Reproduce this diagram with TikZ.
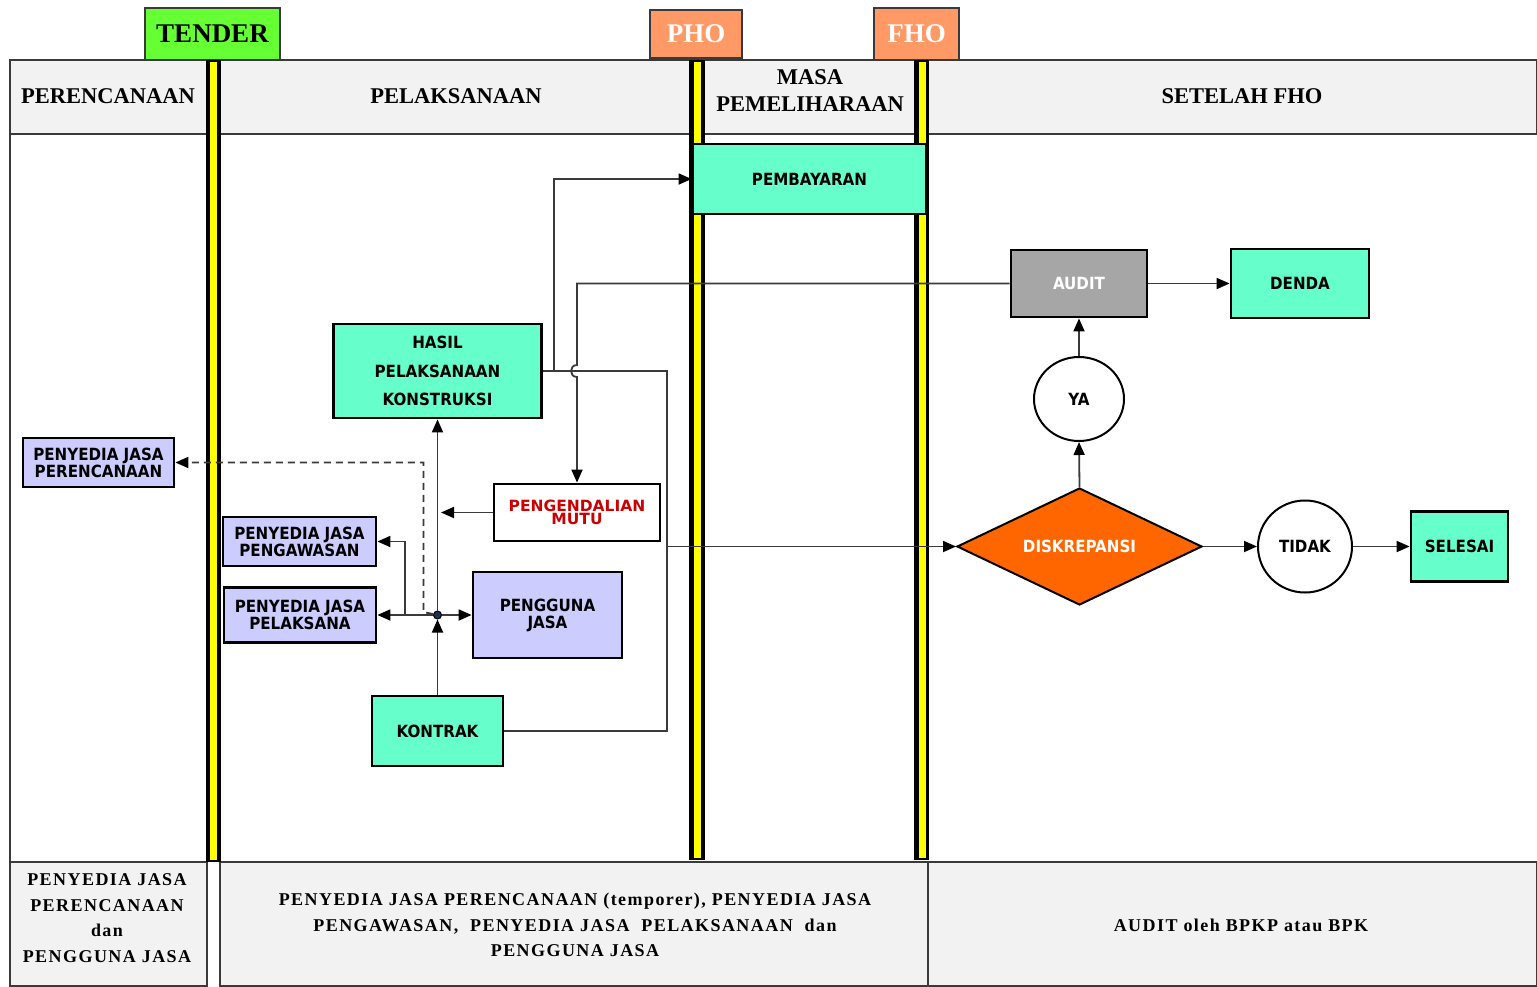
\documentclass[tikz,border=0pt]{standalone}
\usepackage{fontspec}
\setmainfont{Liberation Serif}
\newfontfamily\btmfont{Liberation Serif}[LetterSpace=8]
\newfontfamily\boxfont{DejaVu Sans Condensed}
\newfontfamily\boxwide{DejaVu Sans}
\usetikzlibrary{shapes.geometric,arrows.meta}
\definecolor{aqua}{HTML}{66FFCC}
\definecolor{lav}{HTML}{CCCCFF}
\definecolor{gbox}{HTML}{A6A6A6}
\definecolor{orng}{HTML}{FF6600}
\definecolor{hdrgray}{HTML}{F2F2F2}
\definecolor{tgreen}{HTML}{66FF33}
\definecolor{tabor}{HTML}{FF9966}
\definecolor{yel}{HTML}{FFFF00}
\definecolor{redtxt}{HTML}{CC0000}
\definecolor{lin}{HTML}{3A3A3A}
\definecolor{navy}{HTML}{1F3050}
\begin{document}
\begin{tikzpicture}[x=1pt,y=-1pt,
  bx/.style={draw=black,line width=2.8pt,inner sep=0pt,align=center,
    font=\boxfont\bfseries\fontsize{16.8}{17}\selectfont},
  aquabox/.style={bx,fill=aqua},
  lavbox/.style={bx,fill=lav},
  graybox/.style={bx,fill=gbox,text=white},
  circ/.style={draw=black,line width=2pt,ellipse,fill=white,inner sep=0pt,
    font=\boxfont\bfseries\fontsize{16.8}{17}\selectfont},
  hdr/.style={font=\bfseries\fontsize{22.5}{27}\selectfont,align=center,inner sep=0pt},
  btm/.style={font=\btmfont\bfseries\fontsize{18}{25.5}\selectfont,align=center,inner sep=0pt},
  tab/.style={draw=lin,line width=1.5pt,inner sep=0pt,font=\bfseries\fontsize{27}{27}\selectfont},
  ln/.style={draw=lin,line width=1.8pt},
  arr/.style={ln,-{Triangle[length=13pt,width=11pt,black]}},
  cell/.style={draw=lin,line width=1.5pt}
]
\useasboundingbox (0,0) rectangle (1537,986);
% frame and bands
\fill[white] (10,60) rectangle (1537,986);
\path[cell,fill=hdrgray] (10,60) rectangle (1537,134);
\path[cell,fill=hdrgray] (10,862) rectangle (207,986);
\path[cell,fill=hdrgray] (220,862) rectangle (928,986);
\path[cell,fill=hdrgray] (928,862) rectangle (1537,986);
\draw[cell] (10,60) -- (10,986);
\draw[cell] (10,60) -- (1537,60);
% tabs
\node[tab,fill=tgreen,minimum width=135,minimum height=52] (ttender) at (212.5,34) {TENDER};
\node[tab,fill=tabor,text=white,minimum width=92,minimum height=48] (tpho) at (696,34) {PHO};
\node[tab,fill=tabor,text=white,minimum width=85,minimum height=52] (tfho) at (916.5,34) {FHO};
% bars
\fill[black] (206,60) rectangle (221,862);
\fill[yel] (210,62) rectangle (217,860);
\fill[black] (689,60) rectangle (705,860);
\fill[yel] (694,62) rectangle (701,858);
\fill[black] (914,60) rectangle (929,860);
\fill[yel] (919,62) rectangle (926,858);
% header texts
\node[hdr] (h1) at (108,96) {PERENCANAAN};
\node[hdr] (h2) at (456,96) {PELAKSANAAN};
\node[hdr] (h3) at (810,91) {MASA\\PEMELIHARAAN};
\node[hdr] (h4) at (1242,96) {SETELAH FHO};
% bottom texts
\node[btm] (b1t) at (107,918) {PENYEDIA JASA\\PERENCANAAN\\dan\\PENGGUNA JASA};
\node[btm] (b2t) at (575,925) {PENYEDIA JASA PERENCANAAN (temporer), PENYEDIA JASA\\PENGAWASAN,\ \ PENYEDIA JASA\ \ PELAKSANAAN\ \ dan\\PENGGUNA JASA};
\node[btm] (b3t) at (1241,925) {AUDIT oleh BPKP atau BPK};
% nodes
\node[aquabox,minimum width=233,minimum height=70] (pemb) at (809.5,179) {PEMBAYARAN};
\node[graybox,minimum width=136,minimum height=67] (audit) at (1079,283.5) {AUDIT};
\node[aquabox,minimum width=138,minimum height=69] (denda) at (1300,283.5) {DENDA};
\node[circ,minimum width=90,minimum height=84] (ya) at (1079,399) {YA};
\node[diamond,draw=black,line width=2pt,fill=orng,text=white,inner sep=0pt,aspect=2.09,
  minimum width=245,minimum height=117,
  font=\boxfont\bfseries\fontsize{16.8}{17}\selectfont] (disk) at (1079.5,546.5) {DISKREPANSI};
\node[circ,minimum width=94,minimum height=92] (tidak) at (1305,546.5) {TIDAK};
\node[aquabox,minimum width=97,minimum height=70] (selesai) at (1459.5,546.5) {SELESAI};
\node[aquabox,minimum width=208,minimum height=94,
  font=\boxfont\bfseries\fontsize{16.8}{28.5}\selectfont] (hasil) at (437.5,371) {HASIL\\PELAKSANAAN\\KONSTRUKSI};
\node[lavbox,minimum width=151,minimum height=49] (pjp) at (98.5,462.5) {PENYEDIA JASA\\PERENCANAAN};
\node[bx,fill=white,text=redtxt,minimum width=166,minimum height=57,
  font=\boxwide\bfseries\fontsize{15.5}{13.5}\selectfont] (pm) at (577,512.5) {PENGENDALIAN\\MUTU};
\node[lavbox,minimum width=153,minimum height=49] (pjw) at (299.5,541.5) {PENYEDIA JASA\\PENGAWASAN};
\node[lavbox,minimum width=152,minimum height=55] (pjl) at (300,615) {PENYEDIA JASA\\PELAKSANA};
\node[lavbox,minimum width=149,minimum height=86] (pg) at (547.5,615) {PENGGUNA\\JASA};
\node[aquabox,minimum width=131,minimum height=70] (kontrak) at (437.5,731) {KONTRAK};
\node[circle,fill=navy,draw=black,line width=1pt,inner sep=0pt,minimum size=8] (jn) at (437.5,615) {};
% helper coordinates
\coordinate (br) at (405,615);
\coordinate (pmend) at (441,512.5);
\coordinate (tap) at (667,546.5);
% connectors
\draw[arr] (kontrak.north) -- (jn);
\draw[arr] (jn) -- (hasil.south);
\draw[arr] (jn) -- (pjl.east);
\draw[arr] (jn) -- (pg.west);
\draw[arr] (br) |- (pjw.east);
\draw[arr,dashed,dash pattern=on 7pt off 5pt] (jn) -- ++(-14,-3) |- (pjp.east);
\draw[arr] (pm.west) -- (pmend);
\draw[ln] (hasil.east) -| (667,731) -- (kontrak.east);
\draw[arr] (tap) -- (disk.west);
\draw[arr] (hasil.east) -- ++(11,0) |- (pemb.west);
\draw[arr] (audit.west) -- (577,283.5) -- (577,365) .. controls (569,365) and (569,377) .. (577,377) -- (pm.north);
\draw[arr] (audit.east) -- (denda.west);
\draw[arr] (ya.north) -- (audit.south);
\draw[arr] (disk.north) -- (ya.south);
\draw[arr] (disk.east) -- (tidak.west);
\draw[arr] (tidak.east) -- (selesai.west);
\end{tikzpicture}
\end{document}
